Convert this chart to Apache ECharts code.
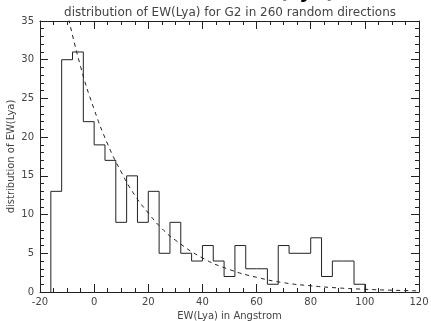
<!DOCTYPE html>
<html>
<head>
<meta charset="utf-8">
<script src="https://cdn.jsdelivr.net/npm/echarts@6/dist/echarts.min.js"></script>
<style>
  html, body { margin: 0; padding: 0; background: #fff; }
  #chart { width: 431px; height: 321px; }
</style>
</head>
<body>
<div id="chart"></div>
<script>
// histogram bins (left edges, width 4) and counts
const binEdges = [-16, -12, -8, -4, 0, 4, 8, 12, 16, 20, 24, 28, 32, 36, 40, 44, 48, 52, 56, 60, 64, 68, 72, 76, 80, 84, 88, 92, 96, 100]
const counts = [13, 30, 31, 22, 19, 17, 9, 15, 9, 13, 5, 9, 5, 4, 6, 4, 2, 6, 3, 3, 1, 6, 5, 5, 7, 2, 4, 4, 1]

// dashed fit curve, sampled by eye
const fitX = [-10, -5, 0, 5, 10, 15, 20, 25, 30, 40, 50, 60, 70, 80, 90, 100, 110, 120]
const fitY = [36.2, 29.1, 23.6, 19.1, 15.5, 12.5, 10.2, 8.2, 6.7, 4.4, 2.9, 1.9, 1.2, 0.8, 0.53, 0.35, 0.23, 0.15]

const titleText = 'distribution of EW(Lya) for G2 in 260 random directions'
const xName = 'EW(Lya) in Angstrom'
const yName = 'distribution of EW(Lya)'

const FONT = 'DejaVu Sans'
const INK = '#222'
const LABEL = '#444'

// step data: start at 0, one point per bin, close back to 0
let histData = [[binEdges[0], 0]]
counts.forEach((c, i) => histData.push([binEdges[i], c]))
histData.push([binEdges[binEdges.length - 1], 0])

const fitData = fitX.map((x, i) => [x, fitY[i]])

const myChart = echarts.init(document.getElementById('chart'))

const axisCommon = {
    axisLine: { onZero: false, lineStyle: { color: INK, width: 1 } },
    axisTick: { inside: true, length: 8, lineStyle: { color: INK } },
    minorTick: { show: true, length: 4, lineStyle: { color: INK } },
    splitLine: { show: false },
}

let option = {
    animation: false,
    backgroundColor: '#fff',
    title: {
        text: titleText,
        left: 225,
        textAlign: 'center',
        top: 2,
        textStyle: { fontFamily: FONT, fontSize: 12, fontWeight: 'normal', color: LABEL }
    },
    graphic: [{
        type: 'text',
        left: 243,
        top: -17,
        style: { text: 'EW(Lyα)', font: 'bold 20px "DejaVu Sans"', fill: '#000' }
    }],
    grid: { left: 40, right: 12, top: 21, bottom: 29, outerBoundsMode: 'none' },
    xAxis: [
        {
            ...axisCommon,
            type: 'value', min: -20, max: 120, interval: 20,
            minorTick: { ...axisCommon.minorTick, splitNumber: 4 },
            name: xName, nameLocation: 'middle', nameGap: 16,
            nameTextStyle: { fontFamily: FONT, fontSize: 10, color: LABEL },
            axisLabel: { fontFamily: FONT, fontSize: 10, color: LABEL, margin: 5 }
        },
        {
            ...axisCommon,
            type: 'value', min: -20, max: 120, interval: 20, position: 'top',
            minorTick: { ...axisCommon.minorTick, splitNumber: 4 },
            axisLabel: { show: false }
        }
    ],
    yAxis: [
        {
            ...axisCommon,
            type: 'value', min: 0, max: 35, interval: 5,
            minorTick: { ...axisCommon.minorTick, splitNumber: 5 },
            name: yName, nameLocation: 'middle', nameGap: 24, nameMoveOverlap: false,
            nameTextStyle: { fontFamily: FONT, fontSize: 10, color: LABEL },
            axisLabel: { fontFamily: FONT, fontSize: 10, color: LABEL, margin: 6 }
        },
        {
            ...axisCommon,
            type: 'value', min: 0, max: 35, interval: 5, position: 'right',
            minorTick: { ...axisCommon.minorTick, splitNumber: 5 },
            axisLabel: { show: false }
        }
    ],
    series: [
        {
            type: 'line',
            step: 'end',
            data: histData,
            symbol: 'none',
            lineStyle: { color: INK, width: 1 },
            clip: true
        },
        {
            type: 'line',
            smooth: true,
            data: fitData,
            symbol: 'none',
            lineStyle: { color: INK, width: 1, type: [4, 4] },
            clip: true
        }
    ]
}
myChart.setOption(option)
</script>
</body>
</html>
